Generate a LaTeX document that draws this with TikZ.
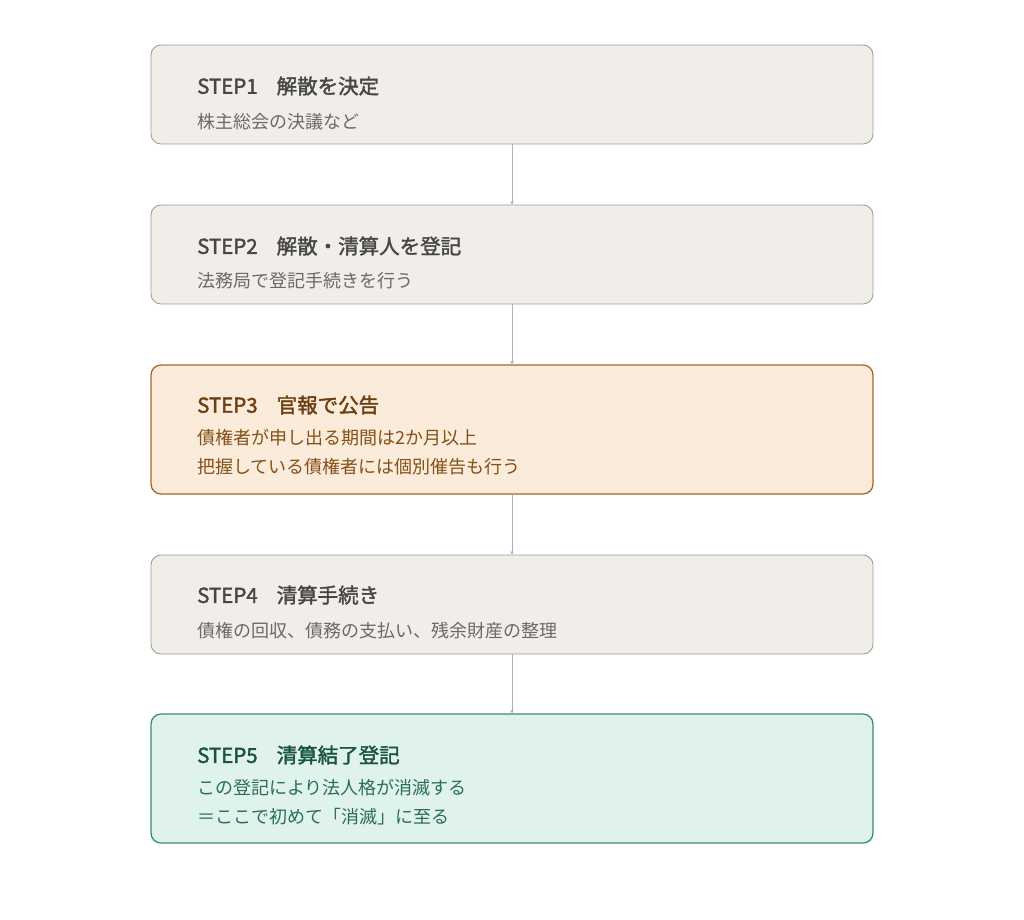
\documentclass[tikz,border=0pt]{standalone}
\usepackage{fontspec}
\setmainfont{Noto Sans CJK JP}
\newfontfamily\ttlfont[FakeBold=1.8]{Noto Sans CJK JP}
\usetikzlibrary{arrows.meta}
\definecolor{gfill}{HTML}{F1EEE9}
\definecolor{gline}{HTML}{A09C98}
\definecolor{gtitle}{HTML}{474747}
\definecolor{gtext}{HTML}{6A6A6A}
\definecolor{ofill}{HTML}{FAEBDA}
\definecolor{oline}{HTML}{A3672B}
\definecolor{otitle}{HTML}{6B3F10}
\definecolor{otext}{HTML}{845117}
\definecolor{tfill}{HTML}{E0F2EC}
\definecolor{tline}{HTML}{3A8C6E}
\definecolor{ttitle}{HTML}{1A5440}
\definecolor{ttext}{HTML}{2A6E55}
\definecolor{conncol}{HTML}{B0B0B0}
\newcommand{\stepgap}{\hspace{19pt}}
\tikzset{
  stepbox/.style={draw=gline, fill=gfill, line width=0.9pt, rounded corners=10pt, minimum width=722pt, inner sep=0pt},
  warnbox/.style={stepbox, draw=oline, fill=ofill, line width=1.3pt},
  endbox/.style={stepbox, draw=tline, fill=tfill, line width=1.3pt},
  ttl/.style={anchor=west, inner sep=0pt, font=\ttlfont\fontsize{20.5}{24}\selectfont, text=gtitle},
  sub/.style={anchor=west, inner sep=0pt, font=\fontsize{18}{21}\selectfont, text=gtext},
  conn/.style={draw=conncol, line width=1pt, -{Latex[length=3pt,width=4pt]}}
}
\begin{document}
\begin{tikzpicture}[x=1pt,y=-1pt]
\useasboundingbox[fill=white] (0,0) rectangle (1024,919);
\node[stepbox, minimum height=99pt] (b1) at (512,94.5) {};
\node[stepbox, minimum height=99pt] (b2) at (512,254.5) {};
\node[warnbox, minimum height=129pt] (b3) at (512,429.5) {};
\node[stepbox, minimum height=99pt] (b4) at (512,604.5) {};
\node[endbox, minimum height=129pt] (b5) at (512,778.5) {};

\draw[conn] (b1.south) -- (b2.north);
\draw[conn] (b2.south) -- (b3.north);
\draw[conn] (b3.south) -- (b4.north);
\draw[conn] (b4.south) -- (b5.north);

\node[ttl] (t1) at (197,86) {STEP1\stepgap 解散を決定};
\node[sub] (s1) at (197,122) {株主総会の決議など};

\node[ttl] (t2) at (197,246) {STEP2\stepgap 解散・清算人を登記};
\node[sub] (s2) at (197,281) {法務局で登記手続きを行う};

\node[ttl, text=otitle] (t3) at (197,405) {STEP3\stepgap 官報で公告};
\node[sub, text=otext] (s3a) at (197,438) {債権者が申し出る期間は2か月以上};
\node[sub, text=otext] (s3b) at (197,467) {把握している債権者には個別催告も行う};

\node[ttl] (t4) at (197,595) {STEP4\stepgap 清算手続き};
\node[sub] (s4) at (197,631) {債権の回収、債務の支払い、残余財産の整理};

\node[ttl, text=ttitle] (t5) at (197,755) {STEP5\stepgap 清算結了登記};
\node[sub, text=ttext] (s5a) at (197,788) {この登記により法人格が消滅する};
\node[sub, text=ttext] (s5b) at (197,817) {＝ここで初めて「消滅」に至る};
\end{tikzpicture}
\end{document}
